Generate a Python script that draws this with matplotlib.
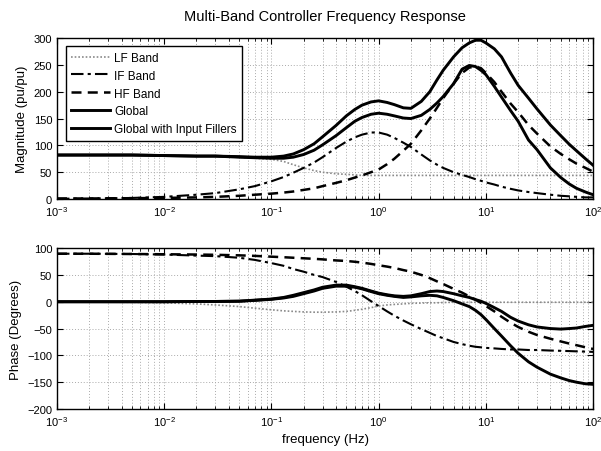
"""Multi-Band Controller Frequency Response — magnitude and phase plots (log frequency)."""
import matplotlib
matplotlib.use("Agg")
import matplotlib.pyplot as plt
from matplotlib.ticker import LogLocator, NullFormatter

plt.rcParams["font.family"] = ["Liberation Sans", "DejaVu Sans"]
plt.rcParams["mathtext.fontset"] = "custom"
plt.rcParams["mathtext.rm"] = "Liberation Sans"
plt.rcParams["mathtext.it"] = "Liberation Sans"

# frequency points (Hz)
freq = [0.001, 0.002, 0.005, 0.01, 0.02, 0.03, 0.05, 0.07, 0.1, 0.13, 0.16, 0.2, 0.25, 0.3,
        0.4, 0.5, 0.6, 0.7, 0.85, 1.0, 1.2, 1.4, 1.7, 2.0, 2.5, 3.0, 3.5, 4.0, 5.0, 6.0,
        7.0, 8.0, 9.0, 10, 12, 14, 17, 20, 25, 30, 40, 50, 60, 70, 85, 100]

# magnitude (pu/pu)
mag_lf = [82, 82, 82, 81, 80, 80, 78, 76, 74, 70, 64, 58, 53, 50,
          47, 46, 45, 44, 44, 44, 44, 44, 44, 44, 44, 44, 44, 44, 44, 44,
          44, 44, 44, 44, 44, 44, 44, 44, 44, 44, 44, 44, 44, 44, 44, 44]
mag_if = [0.5, 1, 2, 4, 8, 11, 18, 24, 33, 41, 49, 58, 68, 78,
          95, 107, 115, 120, 124, 124, 120, 114, 105, 97, 83, 72, 64, 58, 50, 45,
          41, 37, 34, 31, 27, 23, 19, 16, 13, 11, 8, 6, 5, 4, 3, 3]
mag_hf = [1, 1, 1.5, 2, 3, 4, 6, 8, 10, 12, 14, 17, 20, 24,
          30, 35, 40, 44, 50, 55, 65, 75, 90, 103, 128, 150, 170, 188, 215, 235,
          245, 247, 244, 235, 218, 200, 178, 162, 138, 122, 98, 84, 74, 66, 58, 51]
mag_global = [82, 82, 82, 81, 80, 80, 79, 78, 78, 80, 84, 92, 103, 116,
              137, 155, 167, 175, 181, 183, 180, 176, 170, 169, 182, 200, 222, 240, 265, 282,
              291, 296, 296, 291, 280, 265, 235, 212, 188, 168, 138, 118, 102, 90, 75, 63]
mag_global_filt = [82, 82, 82, 81, 80, 80, 78, 77, 76, 76, 78, 83, 91, 101,
                   118, 133, 145, 152, 158, 160, 158, 155, 151, 150, 156, 167, 179, 191, 215, 242,
                   249, 247, 240, 232, 210, 190, 165, 145, 110, 92, 58, 40, 28, 20, 13, 8]

# phase (degrees)
ph_lf = [0, -0.5, -1, -2, -4, -6, -9, -12, -15, -17, -18, -19, -19.5, -19.5,
         -19, -18, -16, -14, -11, -8, -6, -5, -4, -3, -2.5, -2, -2, -1.5, -1, -1,
         -1, -1, -1, -1, -1, -1, -1, -1, -1, -1, -1, -1, -1, -1, -1, -1]
ph_if = [89.5, 89.5, 89, 88, 86, 85, 82, 78, 72, 67, 61, 56, 50, 46,
         37, 28, 20, 12, 1, -8, -18, -26, -35, -42, -51, -58, -64, -68, -75, -79,
         -82, -84, -85, -86, -87, -88, -89, -89, -90, -90, -91, -91.5, -92, -92.5, -93, -93.5]
ph_hf = [89.5, 89.5, 89, 88.5, 88, 87.5, 86.5, 85.5, 84, 83, 82, 81, 80, 79,
         77, 76, 74.5, 73, 70.5, 68, 65.5, 63, 59, 56, 50, 44, 38, 33, 24, 17,
         10, 4, -2, -8, -18, -28, -39, -47, -56, -62, -69, -74, -78, -81, -85, -88]
ph_global = [0, 0, 0, 0, 0.5, 0.5, 1, 3, 5, 8, 12, 17, 22, 27,
             31, 31, 28, 25, 20, 16, 13, 11, 10, 11, 15, 19, 20, 19, 15, 11,
             8, 4, 1, -3, -11, -18, -29, -36, -43, -47, -50, -51, -50, -49, -46, -44]
ph_global_filt = [0, 0, 0, 0, 0.5, 0.5, 1, 2.5, 4.5, 7, 10, 15, 20, 25,
                  29, 29, 27, 24, 19, 15, 12, 10, 8, 9, 11, 12, 11, 8, 2, -4,
                  -9, -16, -24, -33, -50, -64, -82, -96, -112, -122, -135, -142, -147, -150, -153, -154]

fig = plt.figure(figsize=(6.01, 4.52), dpi=100)
ax1 = fig.add_axes([0.0948, 0.5575, 0.892, 0.356])
ax2 = fig.add_axes([0.0948, 0.0929, 0.892, 0.356])

styles = [
    ("LF Band", dict(color="#8a8a8a", linestyle=(0, (1, 1.2)), linewidth=1.2)),
    ("IF Band", dict(color="black", linestyle=(0, (6, 2, 1.5, 2)), linewidth=1.5)),
    ("HF Band", dict(color="black", linestyle=(0, (4, 2.5)), linewidth=1.8)),
    ("Global", dict(color="black", linestyle="-", linewidth=2.1)),
    ("Global with Input Fillers", dict(color="black", linestyle="-", linewidth=2.1)),
]

for (label, st), y in zip(styles, [mag_lf, mag_if, mag_hf, mag_global, mag_global_filt]):
    ax1.plot(freq, y, label=label, **st)
for (label, st), y in zip(styles, [ph_lf, ph_if, ph_hf, ph_global, ph_global_filt]):
    ax2.plot(freq, y, **st)

for ax in (ax1, ax2):
    ax.set_xscale("log")
    ax.set_xlim(1e-3, 1e2)
    ax.xaxis.set_major_locator(LogLocator(base=10, numticks=10))
    ax.xaxis.set_minor_locator(LogLocator(base=10, subs=range(2, 10), numticks=20))
    ax.xaxis.set_minor_formatter(NullFormatter())
    ax.tick_params(which="both", direction="in", top=True, right=True, labelsize=8)
    ax.tick_params(which="major", length=4)
    ax.tick_params(which="minor", length=2.5)
    ax.grid(True, which="major", color="#aaaaaa", linestyle=(0, (1, 2)), linewidth=0.7)
    ax.grid(True, which="minor", axis="x", color="#aaaaaa", linestyle=(0, (1, 2)), linewidth=0.7)
    for sp in ax.spines.values():
        sp.set_linewidth(1.0)

ax1.set_ylim(0, 300)
ax1.set_yticks(range(0, 301, 50))
ax1.set_ylabel("Magnitude (pu/pu)", fontsize=9.5)
ax1.set_title("Multi-Band Controller Frequency Response", fontsize=10.5, pad=13)
ax1.legend(loc="upper left", bbox_to_anchor=(0.006, 0.985), fontsize=8.5, frameon=True,
           fancybox=False, framealpha=1, edgecolor="black", handlelength=3.3,
           labelspacing=0.5, borderpad=0.45, handletextpad=0.3)

ax2.set_ylim(-200, 100)
ax2.set_yticks(range(-200, 101, 50))
ax2.set_ylabel("Phase (Degrees)", fontsize=9.5)
ax2.set_xlabel("frequency (Hz)", fontsize=9.5)

fig.savefig("out.png", dpi=100)
